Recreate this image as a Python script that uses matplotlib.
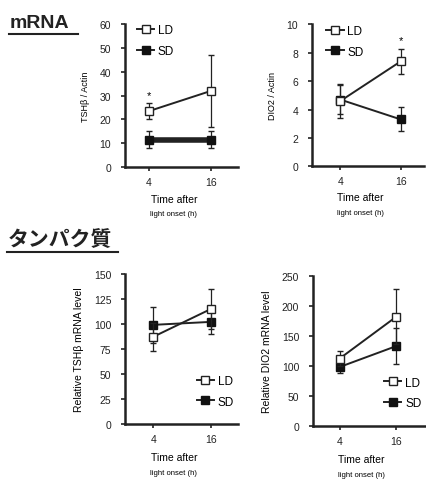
import numpy as np
import matplotlib.pyplot as plt
from matplotlib.lines import Line2D

plt.rcParams['font.family'] = ['Liberation Sans', 'Noto Sans CJK JP', 'DejaVu Sans']

hours = [4, 16]

# mRNA (Actin normalised)
tshb_ld = [23.5, 32.0]
tshb_ld_err = [3.5, 15.0]
tshb_sd = [11.5, 11.5]
tshb_sd_err = [3.5, 3.5]

dio2_ld = [4.6, 7.4]
dio2_ld_err = [1.2, 0.9]
dio2_sd = [4.7, 3.3]
dio2_sd_err = [1.0, 0.85]

# protein (relative level)
p_tshb_ld = [87, 115]
p_tshb_ld_err = [14, 20]
p_tshb_sd = [99, 102]
p_tshb_sd_err = [18, 12]

p_dio2_ld = [112, 182]
p_dio2_ld_err = [12, 46]
p_dio2_sd = [98, 133]
p_dio2_sd_err = [10, 30]

fig = plt.figure(figsize=(4.27, 4.89), dpi=100)


def panel(rect, xlim, ld, ld_err, sd, sd_err, ylim, yticks, ylabel, ylsize=6.5, sd_lw=1.4):
    ax = fig.add_axes(rect)
    ax.errorbar(hours, sd, yerr=sd_err, color='#222222', lw=sd_lw, marker='s', ms=6,
                mfc='#111111', mec='#111111', capsize=2, elinewidth=0.9, zorder=2)
    ax.errorbar(hours, ld, yerr=ld_err, color='#222222', lw=1.4, marker='s', ms=6,
                mfc='white', mec='#222222', mew=1.0, capsize=2, elinewidth=0.9, zorder=3)
    ax.set_xlim(*xlim)
    ax.set_ylim(*ylim)
    ax.set_yticks(yticks)
    ax.set_xticks(hours)
    for s in ['top', 'right']:
        ax.spines[s].set_visible(False)
    for s in ['left', 'bottom']:
        ax.spines[s].set_linewidth(1.8)
        ax.spines[s].set_color('#222222')
    ax.tick_params(direction='out', length=3, width=1.2, labelsize=7.5, pad=4, colors='#222222')
    ax.tick_params(axis='y', pad=7)
    ax.set_ylabel(ylabel, fontsize=ylsize, labelpad=7)
    ax.text(0.43, -0.24, 'Time after', transform=ax.transAxes, ha='center', fontsize=7.5)
    ax.text(0.43, -0.335, 'light onset (h)', transform=ax.transAxes, ha='center', fontsize=5.5)
    return ax


def add_legend(ax, loc, anchor):
    h_ld = Line2D([], [], color='#222222', lw=1.4, marker='s', ms=6, mfc='white', mec='#222222')
    h_sd = Line2D([], [], color='#222222', lw=1.4, marker='s', ms=6, mfc='#111111', mec='#111111')
    ax.legend([h_ld, h_sd], ['LD', 'SD'], loc=loc, bbox_to_anchor=anchor, frameon=False,
              fontsize=8.5, handlelength=1.5, handletextpad=0.3, labelspacing=0.75,
              borderpad=0)


ax1 = panel([0.293, 0.656, 0.265, 0.293], (-0.6, 21.2), tshb_ld, tshb_ld_err,
            tshb_sd, tshb_sd_err, (0, 60), range(0, 61, 10), 'TSHβ / Actin', sd_lw=4)
ax1.text(4, 29, '*', ha='center', fontsize=8)
add_legend(ax1, 'upper left', (0.05, 1.04))

ax2 = panel([0.731, 0.658, 0.262, 0.29], (-1.6, 20.6), dio2_ld, dio2_ld_err,
            dio2_sd, dio2_sd_err, (0, 10), range(0, 11, 2), 'DIO2 / Actin')
ax2.text(16, 8.7, '*', ha='center', fontsize=8)
add_legend(ax2, 'upper left', (0.07, 1.04))

ax3 = panel([0.293, 0.131, 0.265, 0.307], (-1.8, 21.6), p_tshb_ld, p_tshb_ld_err,
            p_tshb_sd, p_tshb_sd_err, (0, 150), range(0, 151, 25), 'Relative TSHβ mRNA level',
            ylsize=7.5)
add_legend(ax3, 'lower left', (0.58, 0.07))

ax4 = panel([0.733, 0.127, 0.262, 0.307], (-1.6, 22), p_dio2_ld, p_dio2_ld_err,
            p_dio2_sd, p_dio2_sd_err, (0, 250), range(0, 251, 50), 'Relative DIO2 mRNA level',
            ylsize=7.5)
add_legend(ax4, 'lower left', (0.58, 0.07))

# section headings
fig.text(0.022, 0.952, 'mRNA', fontsize=14, fontweight='bold', va='center', color='#222222')
fig.add_artist(Line2D([0.021, 0.183], [0.928, 0.928], color='#222222', lw=1.5))
fig.text(0.017, 0.508, 'タンパク質', fontsize=15, fontweight='bold', va='center',
         color='#222222')
fig.add_artist(Line2D([0.017, 0.276], [0.482, 0.482], color='#222222', lw=1.5))

fig.savefig('out.png', dpi=100)
